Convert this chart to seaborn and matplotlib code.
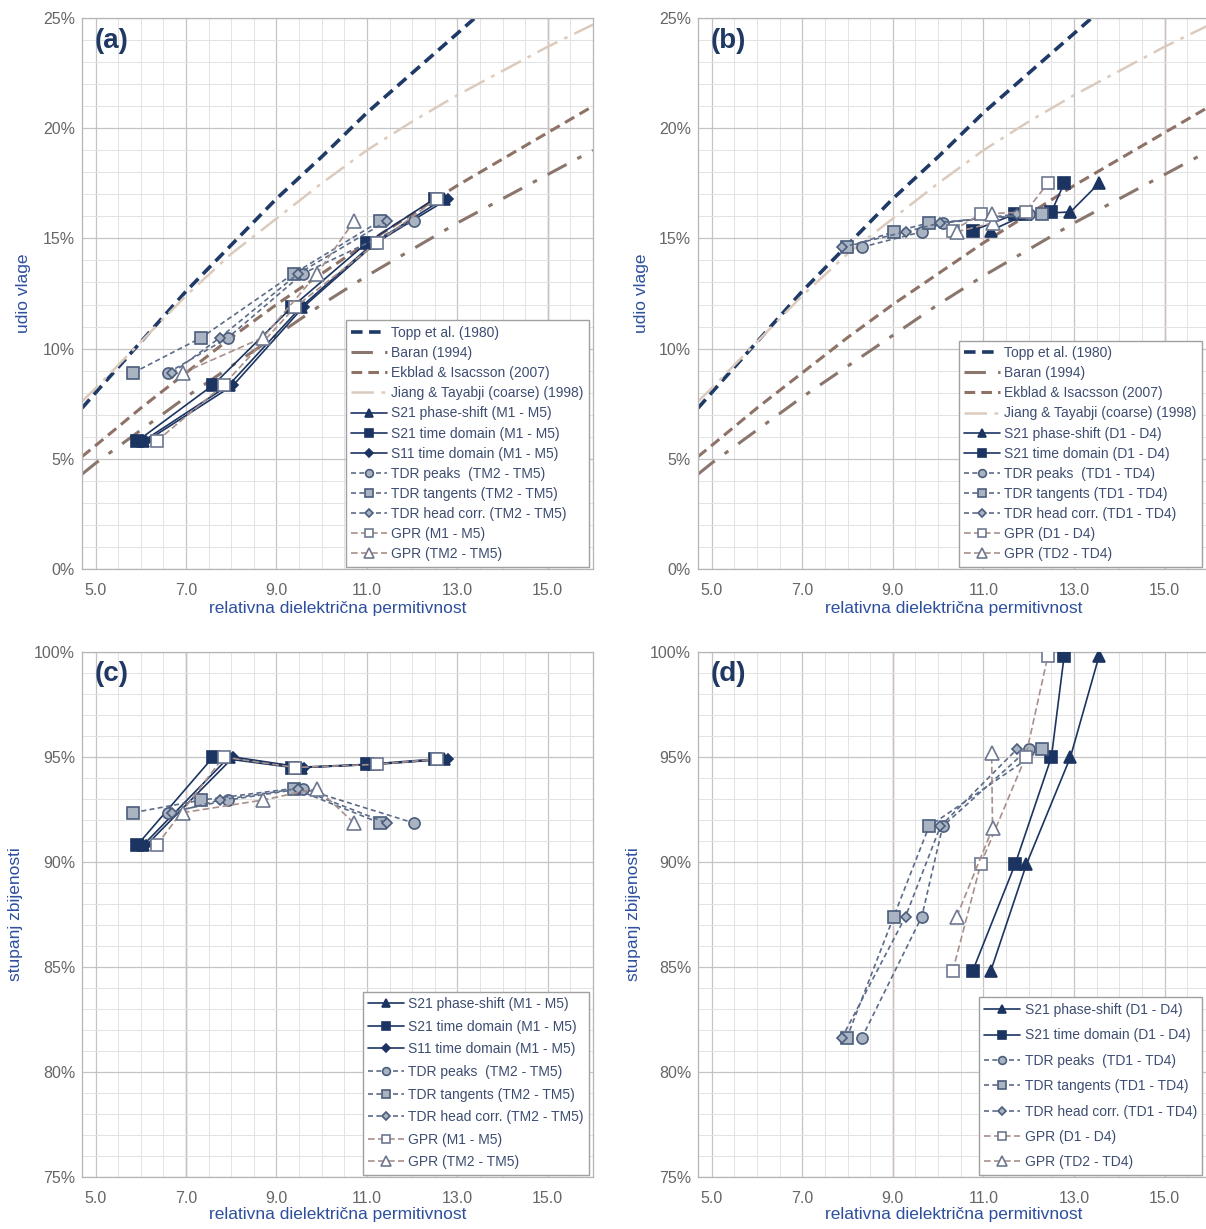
import seaborn as sns
import matplotlib.pyplot as plt
from matplotlib.ticker import MultipleLocator, FuncFormatter

# ---- reference curves (moisture % vs permittivity)
eps_ref = [4.7, 5.0, 6.0, 7.0, 8.0, 9.0, 10.0, 11.0, 12.0, 13.0, 14.0, 15.0, 16.0]
topp = [7.3, 8.0, 10.3, 12.6, 14.7, 16.8, 18.7, 20.7, 22.5, 24.3, 26.1, 27.8, 29.5]
baran = [4.3, 4.8, 6.3, 7.8, 9.2, 10.6, 12.0, 13.3, 14.5, 15.7, 16.8, 17.9, 19.0]
ekblad = [5.1, 5.6, 7.3, 8.9, 10.5, 12.0, 13.4, 14.8, 16.1, 17.4, 18.6, 19.8, 21.0]
jiang = [7.6, 8.2, 10.3, 12.4, 14.3, 15.9, 17.5, 19.0, 20.3, 21.5, 22.6, 23.7, 24.7]

# ---- M samples (panels a, c)
moist_m = [5.8, 8.35, 11.9, 14.8, 16.8]
compact_m = [90.8, 95.0, 94.5, 94.65, 94.9]
eps_s21ps_m = [6.05, 7.95, 9.55, 11.15, 12.7]
eps_s21td_m = [5.92, 7.6, 9.35, 11.0, 12.5]
eps_s11td_m = [6.12, 8.05, 9.6, 11.2, 12.8]
eps_gpr_m = [6.35, 7.83, 9.42, 11.22, 12.55]

# ---- TM samples (panels a, c)
moist_tm = [8.9, 10.5, 13.4, 15.8]
compact_tm = [92.35, 92.95, 93.5, 91.85]
eps_peaks_tm = [6.6, 7.93, 9.58, 12.05]
eps_tang_tm = [5.83, 7.34, 9.38, 11.3]
eps_head_tm = [6.7, 7.75, 9.48, 11.45]
eps_gpr_tm = [6.93, 8.7, 9.9, 10.72]

# ---- D samples (panels b, d)
moist_d = [15.35, 16.1, 16.2, 17.5]
compact_d = [84.8, 89.9, 95.0, 99.8]
eps_s21ps_d = [11.16, 11.95, 12.92, 13.55]
eps_s21td_d = [10.76, 11.7, 12.5, 12.78]
eps_gpr_d = [10.32, 10.94, 11.93, 12.42]

# ---- TD samples (panels b, d)
moist_td = [14.6, 15.3, 15.7, 16.1]
compact_td = [81.6, 87.4, 91.7, 95.4]
eps_peaks_td = [8.31, 9.64, 10.1, 12.0]
eps_tang_td = [7.98, 9.02, 9.8, 12.3]
eps_head_td = [7.87, 9.28, 10.05, 11.75]
moist_gpr_td = [15.3, 15.7, 16.1]
compact_gpr_td = [87.4, 91.6, 95.2]
eps_gpr_td = [10.41, 11.2, 11.18]

x_ticks = [5.0, 7.0, 9.0, 11.0, 13.0, 15.0]

sns.set_style("white")
plt.rcParams['font.family'] = ['Liberation Sans', 'DejaVu Sans']

NAVY = '#1c3461'
GRAYF = '#a9b3c1'
GRAYE = '#4b5d7d'
DASHC = '#5b6b88'
GPRL = '#a88f8a'
LABEL_C = '#2d4f9e'
TICK_C = '#666666'
LEG_C = '#3d4d72'

fig = plt.figure(figsize=(12.06, 12.29), dpi=100)
ax_a = fig.add_axes([82 / 1206, 660 / 1229, 511 / 1206, 551 / 1229])
ax_b = fig.add_axes([698 / 1206, 660 / 1229, 512 / 1206, 551 / 1229])
ax_c = fig.add_axes([82 / 1206, 52 / 1229, 511 / 1206, 525 / 1229])
ax_d = fig.add_axes([698 / 1206, 52 / 1229, 512 / 1206, 525 / 1229])


def ref_curves(ax):
    sns.lineplot(x=eps_ref, y=topp, ax=ax, sort=False, estimator=None, color='#1f3a66',
                 linewidth=2.6, linestyle=(0, (3.2, 1.8)), label='Topp et al. (1980)')
    sns.lineplot(x=eps_ref, y=baran, ax=ax, sort=False, estimator=None, color='#8a766c',
                 linewidth=2.2, linestyle=(0, (7, 4, 1.5, 4)), label='Baran (1994)')
    sns.lineplot(x=eps_ref, y=ekblad, ax=ax, sort=False, estimator=None, color='#8e7266',
                 linewidth=2.2, linestyle=(0, (3.5, 2)), label='Ekblad & Isacsson (2007)')
    sns.lineplot(x=eps_ref, y=jiang, ax=ax, sort=False, estimator=None, color='#dccbbd',
                 linewidth=1.8, linestyle=(0, (9, 3, 1.5, 3)), label='Jiang & Tayabji (coarse) (1998)')


def series(ax, x, y, label, marker, ms, face, edge, lcolor, ls):
    sns.lineplot(x=x, y=y, ax=ax, sort=False, estimator=None, label=label,
                 marker=marker, markersize=ms, markerfacecolor=face,
                 markeredgecolor=edge, markeredgewidth=1.2, color=lcolor,
                 linestyle=ls, linewidth=1.2, zorder=3)


SOLID = '-'
DASH = (0, (3, 2))
GDASH = (0, (4, 2))


def m_series(ax, yvals, yt):
    series(ax, eps_s21ps_m, yvals, 'S21 phase-shift (M1 - M5)', '^', 8, NAVY, NAVY, NAVY, SOLID)
    series(ax, eps_s21td_m, yvals, 'S21 time domain (M1 - M5)', 's', 8, NAVY, NAVY, NAVY, SOLID)
    series(ax, eps_s11td_m, yvals, 'S11 time domain (M1 - M5)', 'D', 5.5, NAVY, NAVY, NAVY, SOLID)
    series(ax, eps_peaks_tm, yt, 'TDR peaks  (TM2 - TM5)', 'o', 8, GRAYF, GRAYE, DASHC, DASH)
    series(ax, eps_tang_tm, yt, 'TDR tangents (TM2 - TM5)', 's', 8, GRAYF, GRAYE, DASHC, DASH)
    series(ax, eps_head_tm, yt, 'TDR head corr. (TM2 - TM5)', 'D', 5.5, GRAYF, GRAYE, DASHC, DASH)
    series(ax, eps_gpr_m, yvals, 'GPR (M1 - M5)', 's', 9, 'white', '#6d7890', GPRL, GDASH)


def d_series(ax, yvals, yt, ygt):
    series(ax, eps_s21ps_d, yvals, 'S21 phase-shift (D1 - D4)', '^', 8, NAVY, NAVY, NAVY, SOLID)
    series(ax, eps_s21td_d, yvals, 'S21 time domain (D1 - D4)', 's', 8, NAVY, NAVY, NAVY, SOLID)
    series(ax, eps_peaks_td, yt, 'TDR peaks  (TD1 - TD4)', 'o', 8, GRAYF, GRAYE, DASHC, DASH)
    series(ax, eps_tang_td, yt, 'TDR tangents (TD1 - TD4)', 's', 8, GRAYF, GRAYE, DASHC, DASH)
    series(ax, eps_head_td, yt, 'TDR head corr. (TD1 - TD4)', 'D', 5.5, GRAYF, GRAYE, DASHC, DASH)
    series(ax, eps_gpr_d, yvals, 'GPR (D1 - D4)', 's', 9, 'white', '#6d7890', GPRL, GDASH)
    series(ax, eps_gpr_td, ygt, 'GPR (TD2 - TD4)', '^', 10, 'white', '#6d7890', GPRL, GDASH)


# panel (a)
ref_curves(ax_a)
m_series(ax_a, moist_m, moist_tm)
series(ax_a, eps_gpr_tm, moist_tm, 'GPR (TM2 - TM5)', '^', 10, 'white', '#6d7890', GPRL, GDASH)
# panel (b)
ref_curves(ax_b)
d_series(ax_b, moist_d, moist_td, moist_gpr_td)
# panel (c)
m_series(ax_c, compact_m, compact_tm)
series(ax_c, eps_gpr_tm, compact_tm, 'GPR (TM2 - TM5)', '^', 10, 'white', '#6d7890', GPRL, GDASH)
# panel (d)
d_series(ax_d, compact_d, compact_td, compact_gpr_td)

panels = [
    (ax_a, '(a)', 'udio vlage', (0, 25), 0.44, -0.10, 15.0, 0.993),
    (ax_b, '(b)', 'udio vlage', (0, 25), 0.44, -0.095, 15.0, 0.985),
    (ax_c, '(c)', 'stupanj zbijenosti', (75, 100), 0.62, -0.115, 7.0, 0.993),
    (ax_d, '(d)', 'stupanj zbijenosti', (75, 100), 0.82, -0.112, 9.0, 0.985),
]

for ax, tag, ylab, ylim, lsp, ylx, redx, lx in panels:
    ax.set_xlim(4.7, 16.0)
    ax.set_ylim(*ylim)
    ax.xaxis.set_minor_locator(MultipleLocator(0.5))
    ax.yaxis.set_major_locator(MultipleLocator(5))
    ax.yaxis.set_minor_locator(MultipleLocator(1))
    ax.set_xticks(x_ticks)
    ax.xaxis.set_major_formatter(FuncFormatter(lambda v, p: f'{v:.1f}'))
    ax.yaxis.set_major_formatter(FuncFormatter(lambda v, p: f'{v:.0f}%'))
    ax.grid(which='major', color='#c4c4c4', linewidth=0.9)
    ax.grid(which='minor', color='#e3e3e3', linewidth=0.7)
    ax.axvline(redx, color='#c79a8c', linewidth=1.0, zorder=0.5)
    ax.set_axisbelow(True)
    ax.tick_params(which='both', length=0)
    ax.tick_params(axis='x', pad=10, labelsize=11.5, labelcolor=TICK_C)
    ax.tick_params(axis='y', pad=5, labelsize=11.5, labelcolor=TICK_C)
    for s in ax.spines.values():
        s.set_color('#b5b5b5')
        s.set_linewidth(0.9)
    ax.set_xlabel('relativna dielektrična permitivnost', color=LABEL_C, fontsize=12.5)
    ax.xaxis.set_label_coords(0.5, -0.058)
    ax.set_ylabel(ylab, color=LABEL_C, fontsize=12.5)
    ax.yaxis.set_label_coords(ylx, 0.5)
    ax.text(0.025, 0.982, tag, transform=ax.transAxes, ha='left', va='top',
            fontsize=20, fontweight='bold', color='#1f3864')
    h, l = ax.get_legend_handles_labels()
    leg = ax.legend(h, l, loc='lower right', bbox_to_anchor=(lx, 0.004), borderaxespad=0,
                    fontsize=10, labelspacing=lsp, handlelength=2.6, handletextpad=0.3,
                    markerscale=0.7, frameon=True, fancybox=False, edgecolor='#a0a0a0',
                    framealpha=1, borderpad=0.4)
    for t in leg.get_texts():
        t.set_color(LEG_C)

fig.savefig('out.png', dpi=100, facecolor='white')
